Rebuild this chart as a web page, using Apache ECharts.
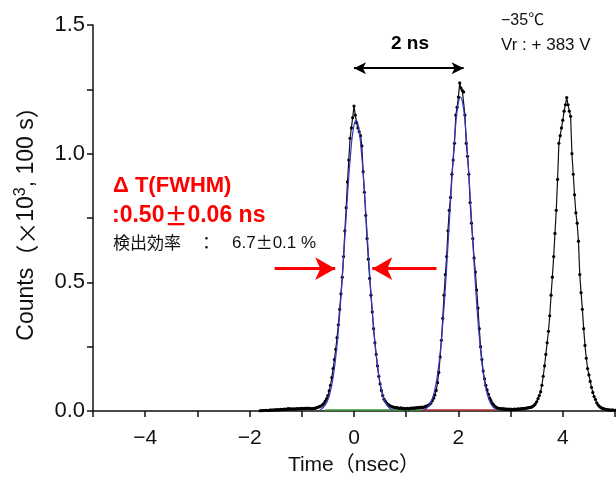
<!DOCTYPE html>
<html><head><meta charset="utf-8">
<script src="https://cdn.jsdelivr.net/npm/echarts@6/dist/echarts.min.js"></script>
<style>html,body{margin:0;padding:0;background:#fff}#c{width:616px;height:479px}</style>
</head><body><div id="c"></div>
<script>
// ---- data (counts x10^3 per 100 s, time bins of 0.025 ns) ----
const BIN_WIDTH = 0.025;
const segPreStart = -1.8;
const countsPre = [0.001,0.002,0.001,0.002,0.003,0.002,0.003,0.002,0.004,0.003,
  0.004,0.003,0.005,0.004,0.005,0.004,0.006,0.005,0.006,0.007,
  0.006,0.008,0.009,0.007,0.008,0.007,0.008,0.007,0.009,0.008,
  0.009,0.008,0.010,0.009,0.010,0.009,0.011,0.010,0.010,0.009,
  0.009,0.010];
const segPeak1Start = -0.75;
const countsPeak1 = [0.010,0.012,0.014,0.016,0.018,0.020,0.025,0.030,0.038,0.048,
  0.060,0.078,0.100,0.130,0.165,0.200,0.240,0.285,0.335,0.395,
  0.455,0.520,0.600,0.700,0.790,0.890,0.975,1.060,1.100,1.140,
  1.185,1.150,1.120,1.100,1.085,1.070,1.030,0.930,0.850,0.760,
  0.670,0.590,0.515,0.450,0.385,0.320,0.265,0.220,0.175,0.135,
  0.105,0.080,0.060,0.046,0.038,0.031,0.026,0.022,0.019,0.017,
  0.015];
const segGap1Start = 0.775;
const countsGap1 = [0.014,0.012,0.013,0.011,0.010,0.012,0.009,0.010,0.008,0.009,
  0.010,0.008,0.010,0.011,0.010,0.012,0.011,0.013,0.012,0.014,
  0.013,0.015,0.014,0.016,0.018,0.020];
const segPeak2Start = 1.425;
const countsPeak2 = [0.022,0.026,0.031,0.040,0.050,0.062,0.080,0.110,0.150,0.210,
  0.275,0.360,0.450,0.530,0.600,0.700,0.780,0.830,0.920,0.975,
  1.040,1.150,1.180,1.220,1.275,1.255,1.245,1.240,1.150,1.040,
  0.990,0.920,0.810,0.730,0.670,0.595,0.540,0.470,0.400,0.320,
  0.250,0.200,0.155,0.125,0.100,0.082,0.065,0.050,0.040,0.030,
  0.024,0.018,0.014,0.011];
const segGap2Start = 2.775;
const countsGap2 = [0.010,0.009,0.008,0.009,0.007,0.008,0.006,0.007,0.006,0.007,
  0.005,0.006,0.007,0.006,0.007,0.008,0.007,0.009,0.008,0.010,
  0.009,0.011,0.012,0.013,0.014,0.015];
const segPeak3Start = 3.425;
const countsPeak3 = [0.018,0.022,0.028,0.036,0.048,0.060,0.075,0.100,0.135,0.175,
  0.220,0.265,0.310,0.370,0.450,0.520,0.600,0.690,0.780,0.900,
  1.040,1.070,1.100,1.130,1.165,1.190,1.218,1.190,1.165,1.145,
  1.000,0.920,0.840,0.770,0.730,0.660,0.530,0.460,0.395,0.320,
  0.255,0.205,0.165,0.140,0.115,0.092,0.072,0.056,0.045,0.032,
  0.024,0.018,0.014,0.011,0.009,0.007,0.006,0.005,0.004,0.004,
  0.003,0.004,0.003,0.003];

// Gaussian fit curves: [time, counts]
const fit1 = [[-0.66,0.005],[-0.61,0.010],[-0.56,0.021],[-0.51,0.039],[-0.46,0.070],[-0.41,0.119],
  [-0.36,0.191],[-0.31,0.290],[-0.26,0.416],[-0.21,0.564],[-0.16,0.725],[-0.11,0.880],[-0.06,1.011],
  [-0.01,1.099],[0.04,1.130],[0.09,1.099],[0.14,1.011],[0.19,0.880],[0.24,0.725],[0.29,0.564],
  [0.34,0.416],[0.39,0.290],[0.44,0.191],[0.49,0.119],[0.54,0.070],[0.59,0.039],[0.64,0.021],
  [0.69,0.010],[0.74,0.005]];
const fit2 = [[1.34,0.005],[1.39,0.011],[1.44,0.022],[1.49,0.042],[1.54,0.076],[1.59,0.128],
  [1.64,0.206],[1.69,0.312],[1.74,0.449],[1.79,0.609],[1.84,0.782],[1.89,0.950],[1.94,1.092],
  [1.99,1.187],[2.04,1.220],[2.09,1.187],[2.14,1.092],[2.19,0.950],[2.24,0.782],[2.29,0.609],
  [2.34,0.449],[2.39,0.312],[2.44,0.206],[2.49,0.128],[2.54,0.076],[2.59,0.042],[2.64,0.022],
  [2.69,0.011],[2.74,0.005]];
const baseGreen = [[-0.55,0.004],[1.29,0.004]];
const baseRed = [[1.29,0.004],[2.70,0.004]];

const xTickValues = [-4,-2,0,2,4];
const xTickLabels = ['\u22124','\u22122','0','2','4'];
const yTickValues = [0,0.5,1.0,1.5];
const yTickLabels = ['0.0','0.5','1.0','1.5'];

// annotation geometry in data units
const fwhmArrowY = 0.553;
const spacingArrowY = 1.332;

function seg(start, vals){ return vals.map((v,i)=>[+(start + i*BIN_WIDTH).toFixed(4), v]); }
const measured = [].concat(
  seg(segPreStart,countsPre), seg(segPeak1Start,countsPeak1), seg(segGap1Start,countsGap1),
  seg(segPeak2Start,countsPeak2), seg(segGap2Start,countsGap2), seg(segPeak3Start,countsPeak3));

const FONT = "'Liberation Sans', Arial, 'Noto Sans CJK JP', sans-serif";
const CJK = "'Noto Sans CJK JP', sans-serif";
const INK = '#111';
const chart = echarts.init(document.getElementById('c'));
chart.setOption({
  animation:false,
  backgroundColor:'#fff',
  grid:{left:93,right:1,top:25,bottom:68,outerBoundsMode:'none'},
  xAxis:{type:'value',min:-5,max:5,interval:1,
    name:'Time\uff08nsec\uff09',nameLocation:'middle',nameGap:44,
    nameTextStyle:{fontSize:21,color:INK,fontFamily:"'Liberation Sans','Noto Sans CJK JP',sans-serif"},
    axisLine:{onZero:false,lineStyle:{color:'#111',width:1.5}},
    axisTick:{show:true,length:6,lineStyle:{color:'#111',width:1.5}},
    axisLabel:{margin:17,fontSize:21,color:INK,fontFamily:FONT,
      formatter:v=>{const k=xTickValues.findIndex(t=>Math.abs(t-v)<1e-6);return k>=0?xTickLabels[k]:'';}},
    splitLine:{show:false}},
  yAxis:{type:'value',min:0,max:1.5,interval:0.25,
    name:'{t|Counts}{c|\uff08\u00d7}{t|10}{s|3}{t|, 100 s}{c|\uff09}',nameLocation:'middle',nameGap:52,
    nameTextStyle:{color:INK,fontFamily:FONT,
      rich:{t:{fontSize:23,color:INK,fontFamily:FONT,lineHeight:28},
            c:{fontSize:23,color:INK,fontFamily:CJK,lineHeight:28},
            s:{fontSize:16,color:INK,fontFamily:FONT,verticalAlign:'top',lineHeight:28,padding:[0,0,10,0]}}},
    axisLine:{show:true,onZero:false,lineStyle:{color:'#111',width:1.5}},
    axisTick:{show:true,length:6,lineStyle:{color:'#111',width:1.5}},
    axisLabel:{margin:8,fontSize:22,color:INK,fontFamily:FONT,
      formatter:v=>{const k=yTickValues.findIndex(t=>Math.abs(t-v)<1e-6);return k>=0?yTickLabels[k]:'';}},
    splitLine:{show:false}},
  series:[
    {type:'line',data:measured,symbol:'circle',symbolSize:3.2,showSymbol:true,showAllSymbol:true,
      lineStyle:{color:'#111',width:1.2},itemStyle:{color:'#000'},z:3,silent:true},
    {type:'line',data:fit1,smooth:true,symbol:'none',lineStyle:{color:'#3434c8',width:1.2},z:4,silent:true},
    {type:'line',data:fit2,smooth:true,symbol:'none',lineStyle:{color:'#3434c8',width:1.2},z:4,silent:true},
    {type:'line',data:baseGreen,symbol:'none',lineStyle:{color:'#3a9a3a',width:1.5},z:2,silent:true,
      markLine:{silent:true,symbol:['none','arrow'],symbolSize:[17,20],label:{show:false},
        lineStyle:{color:'#ff0000',width:3,type:'solid'},
        data:[[{coord:[-1.52,fwhmArrowY]},{coord:[-0.36,fwhmArrowY]}],
              [{coord:[1.58,fwhmArrowY]},{coord:[0.35,fwhmArrowY]}]]}},
    {type:'line',data:baseRed,symbol:'none',lineStyle:{color:'#b03030',width:1.5},z:2,silent:true,
      markLine:{silent:true,symbol:['arrow','arrow'],symbolSize:[9,12],label:{show:false},
        lineStyle:{color:'#000',width:2,type:'solid'},
        data:[[{coord:[0.0,spacingArrowY]},{coord:[2.1,spacingArrowY]}]]}}
  ],
  graphic:[
    {type:'text',x:113,y:186,style:{text:'\u0394 T(FWHM)',fontSize:22,fontWeight:'bold',fill:'#ff0000',fontFamily:FONT,verticalAlign:'middle'}},
    {type:'text',x:112,y:216,style:{
      text:'{a|:0.50}{b|\u00b1}{a|0.06 ns}',verticalAlign:'middle',
      rich:{a:{fontSize:23,fontWeight:'bold',fill:'#ff0000',color:'#ff0000',fontFamily:FONT},
            b:{fontSize:23,fontWeight:'bold',fill:'#ff0000',color:'#ff0000',fontFamily:CJK}}}},
    {type:'text',x:113,y:243,style:{
      text:'{j|\u691c\u51fa\u52b9\u7387\u3000\uff1a\u3000}{l|6.7}{j|\u00b1}{l|0.1 %}',verticalAlign:'middle',
      rich:{j:{fontSize:17,fill:'#111',color:'#111',fontFamily:CJK},
            l:{fontSize:17,fill:'#111',color:'#111',fontFamily:FONT}}}},
    {type:'text',x:410,y:44,style:{text:'2 ns',fontSize:19,fontWeight:'bold',fill:'#000',fontFamily:FONT,align:'center',verticalAlign:'middle'}},
    {type:'text',x:501,y:21,style:{text:'\u221235\u2103',fontSize:16,fill:'#111',fontFamily:FONT,verticalAlign:'middle'}},
    {type:'text',x:501,y:45,style:{text:'Vr : + 383 V',fontSize:17,fill:'#111',fontFamily:FONT,verticalAlign:'middle'}}
  ]
});
</script></body></html>
